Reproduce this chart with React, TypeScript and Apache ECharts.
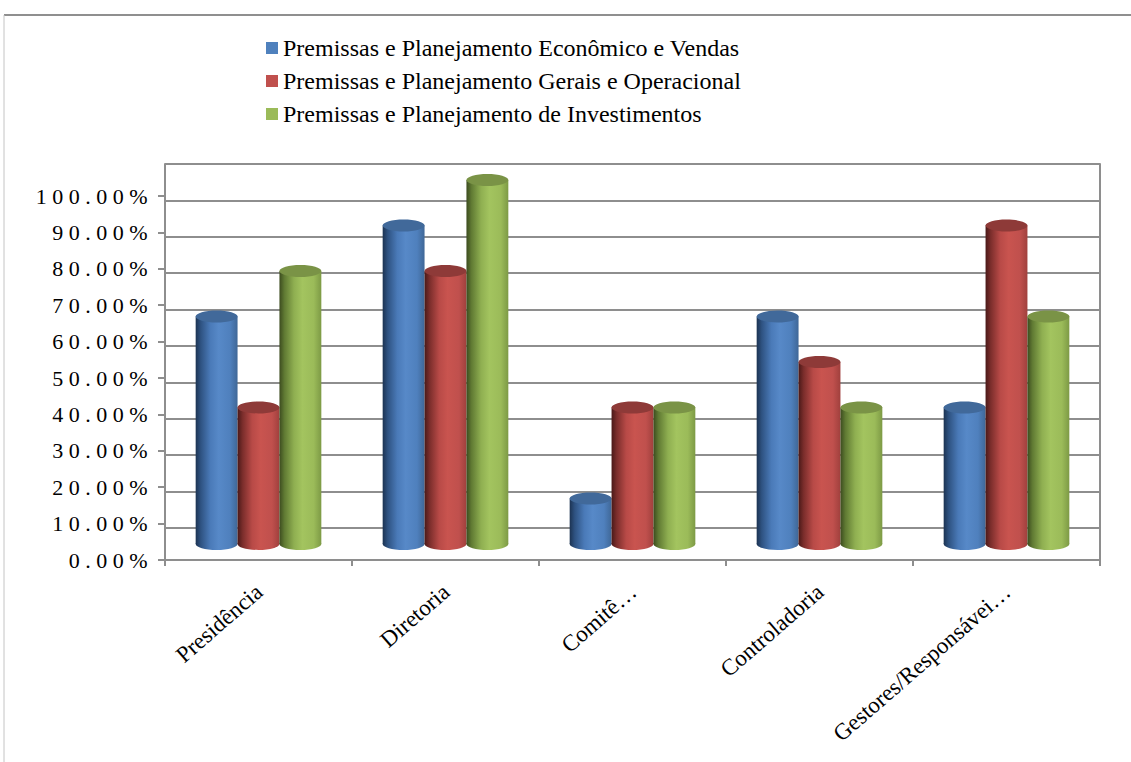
import React, { useEffect, useRef } from 'react';
import * as echarts from 'echarts';

const categories = ['Presidência', 'Diretoria', 'Comitê…', 'Controladoria', 'Gestores/Responsávei…'];
const seriesNames = [
  'Premissas e Planejamento Econômico e Vendas',
  'Premissas e Planejamento Gerais e Operacional',
  'Premissas e Planejamento de Investimentos',
];
const economicoVendas = [62.5, 87.5, 12.5, 62.5, 37.5];
const geraisOperacional = [37.5, 75, 37.5, 50, 87.5];
const investimentos = [75, 100, 37.5, 37.5, 62.5];

const palettes = [
  {
    base: '#4F81BD',
    top: '#41699a',
    stops: ['#1c3352', '#2e5281', '#4a7ab8', '#5789c8', '#4f80bd', '#3f6797'],
  },
  {
    base: '#C0504D',
    top: '#8e3a38',
    stops: ['#4a1918', '#7a2d2b', '#b84a47', '#c9544f', '#c0504d', '#a0403d'],
  },
  {
    base: '#9BBB59',
    top: '#7a9346',
    stops: ['#3c4c1f', '#607a33', '#8faf51', '#a3c45f', '#9bbb59', '#7d9a45'],
  },
];

const FONT = "'Liberation Serif', 'Times New Roman', serif";
const GRID_COLOR = '#8e8e8e';

function makeRender(si: number) {
  const pal = palettes[si];
  return (params: any, api: any) => {
    const cat = api.value(0);
    const val = api.value(1);
    const base = api.coord([cat, 0]);
    const top = api.coord([cat, val]);
    const band = api.size([1, 0])[0];
    const w = band * 0.224;
    const cx = base[0] + (si - 1) * w;
    const x0 = cx - w / 2;
    const ry = 6;
    const mk = () =>
      new echarts.graphic.LinearGradient(0, 0, 1, 0, [
        { offset: 0, color: pal.stops[0] },
        { offset: 0.12, color: pal.stops[1] },
        { offset: 0.35, color: pal.stops[2] },
        { offset: 0.55, color: pal.stops[3] },
        { offset: 0.82, color: pal.stops[4] },
        { offset: 1, color: pal.stops[5] },
      ]);
    return {
      type: 'group',
      children: [
        { type: 'ellipse', shape: { cx, cy: base[1], rx: w / 2, ry }, style: { fill: mk() } },
        { type: 'rect', shape: { x: x0, y: top[1], width: w, height: base[1] - top[1] }, style: { fill: mk() } },
        { type: 'ellipse', shape: { cx, cy: top[1], rx: w / 2, ry }, style: { fill: pal.top } },
      ],
    };
  };
}

export default function App() {
  const ref = useRef<HTMLDivElement>(null);
  useEffect(() => {
    document.body.style.margin = '0';
    if (!ref.current) return;
    const chart = echarts.init(ref.current, null, { renderer: 'svg' });
    const seriesData = [economicoVendas, geraisOperacional, investimentos];
    const option: any = {
      animation: false,
      backgroundColor: '#ffffff',
      graphic: [
        { type: 'line', shape: { x1: 4, y1: 15, x2: 1131, y2: 15 }, style: { stroke: '#8f8f8f', lineWidth: 2 } },
        { type: 'line', shape: { x1: 4, y1: 15, x2: 4, y2: 762 }, style: { stroke: '#c4c4c4', lineWidth: 1 } },
      ],
      legend: {
        orient: 'vertical',
        left: 266,
        top: 36,
        padding: 0,
        itemWidth: 12,
        itemHeight: 12,
        itemGap: 9,
        icon: 'rect',
        textStyle: { fontFamily: FONT, fontSize: 24, color: '#000', lineHeight: 24 },
        data: seriesNames,
      },
      grid: [
        { left: 165, right: 31, top: 196, bottom: 202 },
        { left: 165, right: 31, top: 164, bottom: 234 },
        { left: 165, right: 31, top: 180, bottom: 218 },
      ],
      xAxis: [
        {
          type: 'category',
          gridIndex: 0,
          data: categories,
          axisLine: { show: true, lineStyle: { color: GRID_COLOR, width: 2 } },
          axisTick: { show: true, length: 6, interval: 0, lineStyle: { color: GRID_COLOR, width: 2 } },
          axisLabel: {
            interval: 0,
            rotate: 41,
            align: 'right',
            verticalAlign: 'top',
            margin: 14,
            padding: [0, 9, 0, 0],
            fontFamily: FONT,
            fontSize: 23,
            color: '#000',
          },
          splitLine: { show: false },
        },
        { type: 'category', gridIndex: 1, data: categories, show: false },
        { type: 'category', gridIndex: 2, data: categories, show: false },
      ],
      yAxis: [
        {
          type: 'value',
          gridIndex: 0,
          min: 0,
          max: 100,
          interval: 10,
          position: 'left',
          axisLine: { show: true, lineStyle: { color: GRID_COLOR, width: 2 } },
          axisTick: { show: true, inside: false, length: 7, lineStyle: { color: GRID_COLOR, width: 2 } },
          axisLabel: {
            formatter: (v: number) => v.toFixed(2) + '%',
            fontFamily: FONT,
            fontSize: 22,
            color: '#000',
            margin: 12,
          },
          splitLine: { show: false },
        },
        {
          type: 'value',
          gridIndex: 0,
          min: 0,
          max: 100,
          interval: 10,
          position: 'right',
          axisLine: { show: true, lineStyle: { color: GRID_COLOR, width: 2 } },
          axisTick: { show: false },
          axisLabel: { show: false },
          splitLine: { show: false },
        },
        {
          type: 'value',
          gridIndex: 1,
          min: 0,
          max: 100,
          interval: 10,
          position: 'left',
          axisLine: { show: true, lineStyle: { color: GRID_COLOR, width: 2 } },
          axisTick: { show: false },
          axisLabel: { show: false },
          splitLine: { show: true, lineStyle: { color: GRID_COLOR, width: 2 } },
        },
        {
          type: 'value',
          gridIndex: 1,
          min: 0,
          max: 100,
          interval: 10,
          position: 'right',
          axisLine: { show: true, lineStyle: { color: GRID_COLOR, width: 2 } },
          axisTick: { show: false },
          axisLabel: { show: false },
          splitLine: { show: false },
        },
        { type: 'value', gridIndex: 2, min: 0, max: 100, show: false, splitLine: { show: false } },
      ],
      series: seriesNames.map((name, si) => ({
        name,
        type: 'custom',
        xAxisIndex: 2,
        yAxisIndex: 4,
        itemStyle: { color: palettes[si].base },
        renderItem: makeRender(si),
        encode: { x: 0, y: 1 },
        data: seriesData[si].map((v, i) => [i, v]),
        z: 3,
      })),
    };
    chart.setOption(option);
    const spaceLabels = () => {
      if (!ref.current) return;
      ref.current.querySelectorAll('text').forEach((t) => {
        const s = t.textContent || '';
        if (/^\d+\.00%$/.test(s)) (t as any).style.letterSpacing = '5.5px';
      });
    };
    spaceLabels();
    chart.on('finished', spaceLabels);
    return () => {
      chart.dispose();
    };
  }, []);
  return <div ref={ref} style={{ width: 1131, height: 762 }} />;
}
